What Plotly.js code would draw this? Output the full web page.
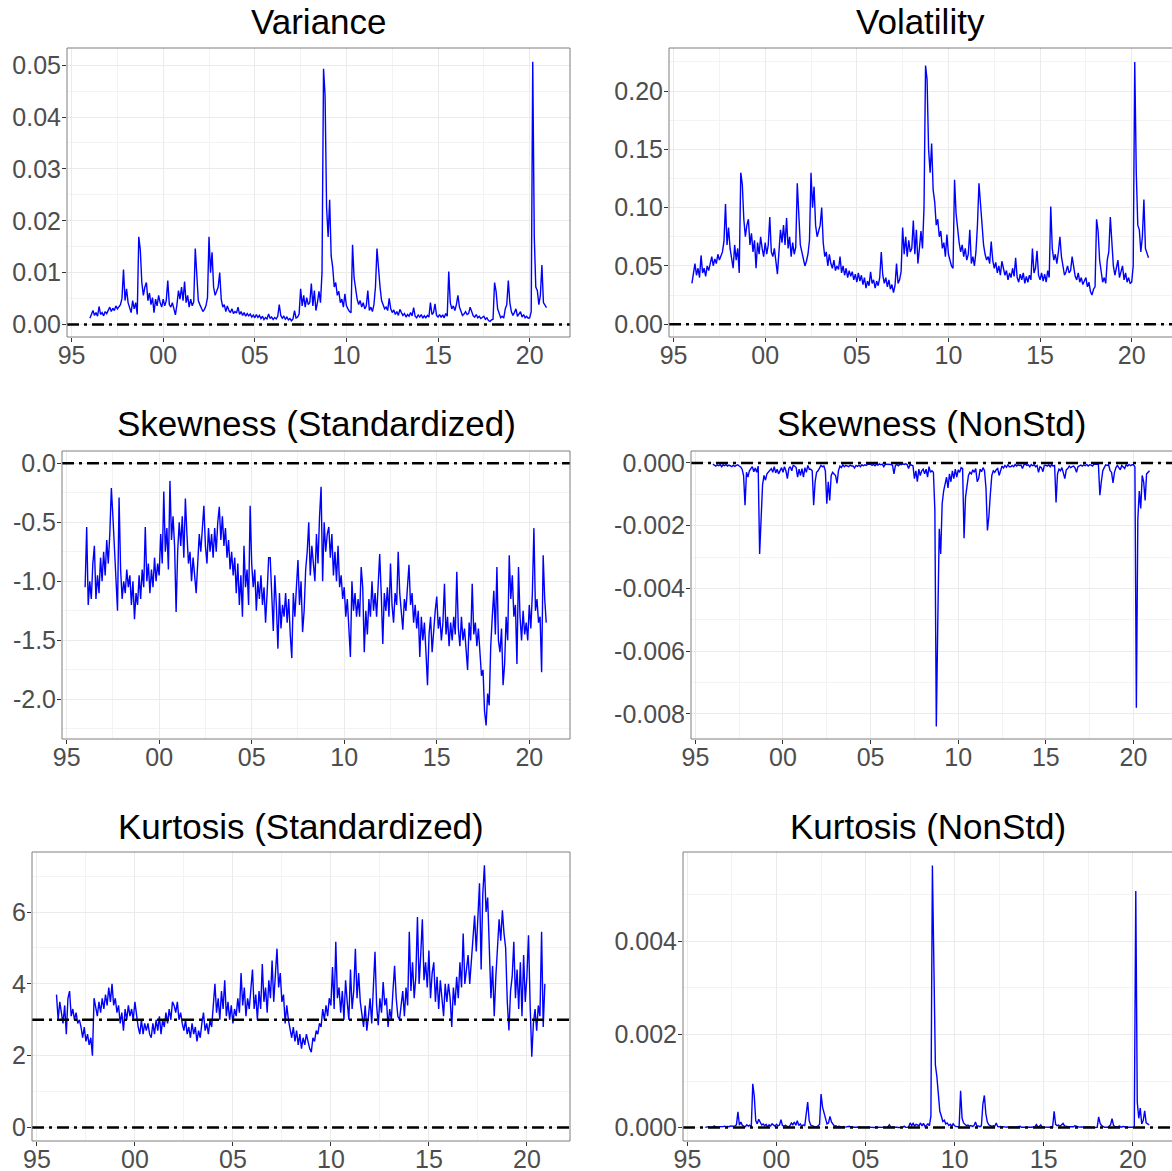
<!DOCTYPE html>
<html><head><meta charset="utf-8">
<script src="https://cdn.plot.ly/plotly-3.0.1.min.js"></script>
<style>html,body{margin:0;padding:0;background:#fff;overflow:hidden}#chart{width:1172px;height:1171px}</style>
</head><body><div id="chart"></div><script>
// ---------------- DATA (monthly, Jan 1996 .. Dec 2020) ----------------
const startYear = 1996;
const nMonths = 300;

const volatility = [
0.035,0.045,0.052,0.042,0.048,0.040,0.059,0.044,0.048,0.041,0.050,0.046,
0.052,0.058,0.050,0.056,0.052,0.060,0.055,0.058,0.062,0.071,0.103,0.068,
0.083,0.065,0.058,0.048,0.068,0.055,0.065,0.044,0.130,0.120,0.090,0.075,
0.085,0.090,0.068,0.078,0.062,0.072,0.048,0.070,0.060,0.075,0.065,0.058,
0.070,0.060,0.068,0.092,0.062,0.058,0.065,0.055,0.043,0.062,0.081,0.070,
0.085,0.068,0.091,0.065,0.075,0.058,0.070,0.060,0.066,0.121,0.090,0.068,
0.062,0.055,0.050,0.054,0.060,0.072,0.130,0.100,0.118,0.085,0.075,0.080,
0.085,0.100,0.070,0.058,0.062,0.050,0.060,0.052,0.048,0.055,0.046,0.050,
0.047,0.058,0.044,0.050,0.042,0.048,0.040,0.046,0.041,0.045,0.038,0.043,
0.036,0.044,0.037,0.042,0.034,0.040,0.031,0.037,0.033,0.045,0.035,0.038,
0.031,0.037,0.033,0.040,0.062,0.042,0.035,0.040,0.032,0.038,0.030,0.034,
0.027,0.033,0.052,0.035,0.038,0.045,0.083,0.060,0.075,0.058,0.072,0.062,
0.065,0.089,0.060,0.081,0.052,0.065,0.080,0.065,0.100,0.222,0.210,0.150,
0.130,0.155,0.115,0.105,0.085,0.090,0.075,0.080,0.065,0.070,0.058,0.077,
0.060,0.055,0.050,0.048,0.124,0.095,0.080,0.070,0.062,0.068,0.058,0.065,
0.055,0.060,0.081,0.052,0.058,0.050,0.062,0.085,0.121,0.100,0.085,0.068,
0.060,0.055,0.058,0.052,0.071,0.055,0.048,0.053,0.044,0.050,0.042,0.054,
0.048,0.042,0.046,0.038,0.044,0.040,0.048,0.041,0.057,0.040,0.036,0.043,
0.038,0.044,0.035,0.041,0.036,0.042,0.038,0.065,0.044,0.048,0.063,0.042,
0.038,0.044,0.037,0.043,0.036,0.046,0.040,0.101,0.065,0.055,0.060,0.052,
0.062,0.075,0.058,0.050,0.042,0.045,0.050,0.044,0.046,0.058,0.050,0.041,
0.038,0.044,0.036,0.040,0.034,0.038,0.040,0.032,0.036,0.028,0.025,0.030,
0.032,0.090,0.080,0.055,0.045,0.036,0.040,0.035,0.055,0.062,0.092,0.065,
0.050,0.042,0.048,0.055,0.040,0.046,0.050,0.038,0.044,0.036,0.040,0.035,
0.036,0.050,0.225,0.130,0.085,0.081,0.062,0.075,0.107,0.065,0.060,0.057
];

const variance = [
0.00123,0.00203,0.00270,0.00176,0.00230,0.00160,0.00348,0.00194,0.00230,0.00168,0.00250,0.00212,
0.00270,0.00336,0.00250,0.00314,0.00270,0.00360,0.00303,0.00336,0.00384,0.00504,0.01061,0.00462,
0.00689,0.00423,0.00336,0.00230,0.00462,0.00303,0.00423,0.00194,0.01690,0.01440,0.00810,0.00563,
0.00723,0.00810,0.00462,0.00608,0.00384,0.00518,0.00230,0.00490,0.00360,0.00563,0.00423,0.00336,
0.00490,0.00360,0.00462,0.00846,0.00384,0.00336,0.00423,0.00303,0.00185,0.00384,0.00656,0.00490,
0.00723,0.00462,0.00828,0.00423,0.00563,0.00336,0.00490,0.00360,0.00436,0.01464,0.00810,0.00462,
0.00384,0.00303,0.00250,0.00292,0.00360,0.00518,0.01690,0.01000,0.01392,0.00723,0.00563,0.00640,
0.00723,0.01000,0.00490,0.00336,0.00384,0.00250,0.00360,0.00270,0.00230,0.00303,0.00212,0.00250,
0.00221,0.00336,0.00194,0.00250,0.00176,0.00230,0.00160,0.00212,0.00168,0.00203,0.00144,0.00185,
0.00130,0.00194,0.00137,0.00176,0.00116,0.00160,0.00096,0.00137,0.00109,0.00203,0.00123,0.00144,
0.00096,0.00137,0.00109,0.00160,0.00384,0.00176,0.00123,0.00160,0.00102,0.00144,0.00090,0.00116,
0.00073,0.00109,0.00270,0.00123,0.00144,0.00203,0.00689,0.00360,0.00563,0.00336,0.00518,0.00384,
0.00423,0.00792,0.00360,0.00656,0.00270,0.00423,0.00640,0.00423,0.01000,0.04928,0.04410,0.02250,
0.01690,0.02403,0.01323,0.01103,0.00723,0.00810,0.00563,0.00640,0.00423,0.00490,0.00336,0.00593,
0.00360,0.00303,0.00250,0.00230,0.01538,0.00903,0.00640,0.00490,0.00384,0.00462,0.00336,0.00423,
0.00303,0.00360,0.00656,0.00270,0.00336,0.00250,0.00384,0.00723,0.01464,0.01000,0.00723,0.00462,
0.00360,0.00303,0.00336,0.00270,0.00504,0.00303,0.00230,0.00281,0.00194,0.00250,0.00176,0.00292,
0.00230,0.00176,0.00212,0.00144,0.00194,0.00160,0.00230,0.00168,0.00325,0.00160,0.00130,0.00185,
0.00144,0.00194,0.00123,0.00168,0.00130,0.00176,0.00144,0.00423,0.00194,0.00230,0.00397,0.00176,
0.00144,0.00194,0.00137,0.00185,0.00130,0.00212,0.00160,0.01020,0.00423,0.00303,0.00360,0.00270,
0.00384,0.00563,0.00336,0.00250,0.00176,0.00203,0.00250,0.00194,0.00212,0.00336,0.00250,0.00168,
0.00144,0.00194,0.00130,0.00160,0.00116,0.00144,0.00160,0.00102,0.00130,0.00078,0.00063,0.00090,
0.00102,0.00810,0.00640,0.00303,0.00203,0.00130,0.00160,0.00123,0.00303,0.00384,0.00846,0.00423,
0.00250,0.00176,0.00230,0.00303,0.00160,0.00212,0.00250,0.00144,0.00194,0.00130,0.00160,0.00123,
0.00130,0.00250,0.05063,0.01690,0.00723,0.00656,0.00384,0.00563,0.01145,0.00423,0.00360,0.00325
];

const skewStd = [
-1.05,-0.54,-1.20,-1.00,-1.15,-0.85,-0.70,-1.15,-0.95,-1.10,-0.80,-1.00,
-0.75,-0.95,-0.65,-0.85,-0.60,-0.21,-0.45,-0.70,-1.00,-1.25,-0.29,-0.90,
-1.15,-1.00,-1.10,-0.90,-1.05,-0.95,-1.20,-1.00,-1.32,-1.10,-1.20,-0.95,
-1.15,-0.90,-1.05,-0.54,-1.00,-0.85,-1.10,-0.90,-1.05,-0.80,-1.00,-0.85,
-0.95,-0.60,-0.85,-0.24,-0.75,-0.55,-0.90,-0.15,-0.65,-0.45,-0.70,-1.26,
-0.75,-0.50,-0.70,-0.45,-0.80,-0.30,-0.60,-0.85,-0.75,-1.00,-0.80,-0.95,
-1.10,-0.85,-0.60,-0.75,-0.50,-0.36,-0.70,-0.85,-0.55,-0.75,-0.60,-0.80,
-0.55,-0.75,-0.50,-0.37,-0.65,-0.45,-0.70,-0.55,-0.80,-0.65,-0.90,-0.75,
-0.95,-0.80,-1.10,-0.85,-1.20,-0.95,-1.30,-0.70,-1.05,-0.90,-1.20,-0.36,
-0.85,-1.05,-0.90,-1.25,-1.00,-1.15,-0.95,-1.20,-1.05,-1.35,-1.10,-0.80,
-0.80,-1.20,-1.42,-0.95,-1.20,-1.57,-1.10,-1.40,-1.20,-1.30,-1.10,-1.35,
-1.15,-1.45,-1.65,-1.10,-1.30,-1.05,-0.82,-1.20,-1.00,-1.43,-1.25,-0.90,
-0.75,-0.50,-0.95,-0.70,-0.85,-1.00,-0.60,-0.85,-0.45,-0.20,-1.00,-0.50,
-0.75,-0.60,-0.54,-0.80,-0.60,-0.95,-0.75,-1.00,-0.70,-1.05,-0.95,-1.15,
-1.05,-1.30,-1.15,-1.40,-1.64,-1.00,-1.25,-1.10,-1.30,-1.15,-1.30,-0.88,
-1.05,-1.60,-1.25,-1.45,-1.15,-1.30,-1.00,-1.25,-1.10,-1.30,-1.05,-0.77,
-1.10,-1.53,-1.10,-1.25,-1.05,-1.30,-0.85,-1.20,-1.35,-1.10,-1.20,-0.75,
-1.10,-1.30,-1.41,-1.15,-1.25,-1.05,-0.86,-1.20,-1.10,-1.35,-1.20,-1.40,
-1.25,-1.64,-1.30,-1.50,-1.35,-1.60,-1.88,-1.45,-1.30,-1.60,-1.40,-1.25,
-1.13,-1.40,-1.30,-1.50,-1.35,-1.02,-1.45,-1.30,-1.55,-1.35,-1.50,-1.30,
-1.45,-0.92,-1.40,-1.55,-1.30,-1.50,-1.40,-1.60,-1.75,-1.35,-1.50,-1.02,
-1.45,-1.35,-1.55,-1.40,-1.65,-1.80,-1.75,-2.10,-2.22,-1.95,-2.05,-1.55,
-1.30,-1.08,-1.45,-0.88,-1.50,-1.60,-1.40,-1.88,-1.70,-1.30,-1.50,-0.78,
-1.15,-0.95,-1.30,-1.20,-1.70,-0.88,-1.30,-1.50,-1.25,-1.45,-1.35,-1.50,
-1.20,-1.40,-1.10,-0.55,-1.25,-1.15,-1.35,-1.30,-1.77,-0.78,-1.15,-1.35
];

const skewNonStd = [
-0.00004,-0.00008,-0.00010,-0.00006,-0.00009,-0.00005,-0.00012,-0.00006,-0.00009,-0.00005,-0.00010,-0.00007,
-0.00009,-0.00012,-0.00007,-0.00011,-0.00008,-0.00006,-0.00010,-0.00013,-0.00020,-0.00040,-0.00135,-0.00030,
-0.00045,-0.00025,-0.00018,-0.00012,-0.00028,-0.00016,-0.00030,-0.00010,-0.00290,-0.00180,-0.00070,-0.00040,
-0.00055,-0.00035,-0.00030,-0.00022,-0.00018,-0.00030,-0.00012,-0.00032,-0.00020,-0.00035,-0.00025,-0.00015,
-0.00030,-0.00012,-0.00025,-0.00050,-0.00018,-0.00012,-0.00025,-0.00008,-0.00010,-0.00015,-0.00045,-0.00020,
-0.00040,-0.00018,-0.00045,-0.00015,-0.00030,-0.00008,-0.00020,-0.00020,-0.00025,-0.00135,-0.00060,-0.00030,
-0.00025,-0.00015,-0.00008,-0.00012,-0.00010,-0.00025,-0.00130,-0.00060,-0.00120,-0.00040,-0.00030,-0.00035,
-0.00040,-0.00065,-0.00025,-0.00010,-0.00015,-0.00006,-0.00012,-0.00008,-0.00009,-0.00012,-0.00007,-0.00010,
-0.00010,-0.00016,-0.00008,-0.00011,-0.00007,-0.00012,-0.00006,-0.00009,-0.00006,-0.00008,-0.00004,-0.00003,
-0.00004,-0.00008,-0.00005,-0.00009,-0.00004,-0.00007,-0.00003,-0.00006,-0.00004,-0.00012,-0.00005,-0.00004,
-0.00004,-0.00006,-0.00005,-0.00007,-0.00035,-0.00008,-0.00005,-0.00009,-0.00004,-0.00006,-0.00003,-0.00005,
-0.00003,-0.00005,-0.00018,-0.00005,-0.00006,-0.00009,-0.00050,-0.00025,-0.00060,-0.00020,-0.00040,-0.00025,
-0.00020,-0.00035,-0.00020,-0.00045,-0.00012,-0.00030,-0.00025,-0.00030,-0.00150,-0.00840,-0.00510,-0.00210,
-0.00290,-0.00130,-0.00090,-0.00070,-0.00045,-0.00080,-0.00035,-0.00060,-0.00025,-0.00050,-0.00020,-0.00045,
-0.00022,-0.00030,-0.00015,-0.00018,-0.00240,-0.00110,-0.00065,-0.00040,-0.00030,-0.00035,-0.00022,-0.00030,
-0.00018,-0.00060,-0.00050,-0.00020,-0.00028,-0.00015,-0.00025,-0.00080,-0.00215,-0.00170,-0.00100,-0.00040,
-0.00025,-0.00030,-0.00022,-0.00018,-0.00040,-0.00020,-0.00010,-0.00016,-0.00008,-0.00014,-0.00006,-0.00012,
-0.00012,-0.00008,-0.00012,-0.00005,-0.00010,-0.00006,-0.00008,-0.00007,-0.00018,-0.00006,-0.00004,-0.00008,
-0.00006,-0.00012,-0.00005,-0.00009,-0.00006,-0.00012,-0.00008,-0.00030,-0.00012,-0.00015,-0.00028,-0.00008,
-0.00007,-0.00010,-0.00006,-0.00012,-0.00005,-0.00010,-0.00008,-0.00126,-0.00035,-0.00020,-0.00025,-0.00015,
-0.00030,-0.00050,-0.00022,-0.00018,-0.00010,-0.00015,-0.00012,-0.00010,-0.00016,-0.00030,-0.00012,-0.00008,
-0.00007,-0.00010,-0.00006,-0.00009,-0.00005,-0.00010,-0.00006,-0.00007,-0.00010,-0.00004,-0.00003,-0.00004,
-0.00004,-0.00103,-0.00060,-0.00025,-0.00015,-0.00006,-0.00008,-0.00006,-0.00025,-0.00030,-0.00064,-0.00030,
-0.00015,-0.00008,-0.00015,-0.00022,-0.00008,-0.00012,-0.00018,-0.00006,-0.00010,-0.00005,-0.00009,-0.00006,
-0.00006,-0.00012,-0.00780,-0.00180,-0.00090,-0.00145,-0.00040,-0.00060,-0.00120,-0.00035,-0.00030,-0.00025
];

const kurtStd = [
3.70,3.00,3.50,3.20,2.90,3.40,2.60,3.60,3.80,3.10,3.30,3.00,
3.20,2.90,3.00,2.80,2.50,2.80,2.40,2.60,2.30,2.50,2.00,3.60,
3.30,3.10,3.50,3.20,3.60,3.30,3.70,3.40,3.90,3.50,4.00,3.40,
3.60,3.20,3.40,2.90,3.20,2.70,3.30,3.00,3.40,3.10,3.30,3.00,
3.50,3.10,2.80,2.60,3.00,2.60,2.90,2.70,2.90,2.60,2.50,2.90,
2.60,3.00,2.70,3.10,2.60,3.00,2.80,3.20,2.90,3.30,3.00,3.50,
3.40,3.20,3.50,3.00,3.20,2.90,2.70,3.00,2.60,2.80,2.50,2.90,
2.60,2.80,2.40,2.70,2.50,2.90,3.20,2.70,2.90,2.60,3.00,2.80,
3.50,4.00,3.20,3.60,3.00,3.80,3.30,4.10,3.10,3.50,3.00,3.40,
2.90,3.30,3.10,3.60,3.20,4.30,3.40,3.90,3.10,3.60,3.30,3.80,
4.40,3.30,3.70,3.00,3.80,3.30,4.55,3.50,3.90,3.20,4.10,3.60,
4.65,3.50,4.20,4.98,3.90,4.30,3.50,3.70,2.90,3.40,3.00,2.70,
2.50,2.80,2.40,2.70,2.30,2.60,2.20,2.50,2.30,2.60,2.40,2.20,
2.10,2.50,2.40,2.70,2.60,2.90,2.80,3.30,3.00,3.40,3.10,3.60,
3.40,4.47,3.30,5.17,3.60,3.90,3.20,3.80,3.00,4.10,3.50,3.00,
4.40,3.30,3.80,4.98,3.60,4.30,3.50,3.20,2.80,3.40,2.70,3.10,
3.60,2.90,3.80,4.89,3.40,2.85,3.60,3.20,4.05,3.40,3.60,2.80,
3.30,3.00,3.80,4.50,3.60,3.10,3.00,3.50,3.80,3.10,3.90,3.40,
5.45,3.80,4.60,3.60,4.20,5.86,4.00,4.80,5.80,4.10,4.60,3.90,
4.93,3.60,4.30,4.60,3.50,4.20,3.30,4.10,3.60,3.10,4.00,3.50,
4.00,3.60,2.80,3.90,3.40,4.20,3.60,4.60,3.90,5.40,4.00,4.40,
4.80,4.00,4.60,5.20,5.90,4.90,6.10,6.80,4.40,6.50,7.30,6.00,
6.40,4.80,3.60,4.50,3.10,4.20,4.90,5.80,5.20,6.05,5.40,5.00,
3.50,2.70,3.80,4.20,5.17,3.60,4.40,3.30,4.60,3.10,4.80,3.50,
4.20,5.35,3.40,1.97,2.90,3.30,2.70,3.40,3.10,5.45,2.80,4.00
];

const kurtNonStd = [
0.000005,0.000012,0.000020,0.000010,0.000015,0.000008,0.000035,0.000012,0.000016,0.000009,0.000020,0.000014,
0.000020,0.000030,0.000018,0.000025,0.000020,0.000035,0.000025,0.000030,0.000035,0.000060,0.000340,0.000050,
0.000120,0.000045,0.000030,0.000018,0.000060,0.000030,0.000050,0.000012,0.000940,0.000680,0.000150,0.000080,
0.000180,0.000130,0.000055,0.000080,0.000040,0.000070,0.000015,0.000060,0.000035,0.000080,0.000045,0.000030,
0.000070,0.000035,0.000055,0.000170,0.000045,0.000030,0.000050,0.000025,0.000010,0.000040,0.000100,0.000060,
0.000120,0.000050,0.000150,0.000045,0.000080,0.000030,0.000060,0.000035,0.000240,0.000550,0.000150,0.000055,
0.000040,0.000025,0.000015,0.000022,0.000035,0.000070,0.000720,0.000440,0.000300,0.000150,0.000080,0.000100,
0.000240,0.000120,0.000060,0.000030,0.000040,0.000015,0.000030,0.000018,0.000012,0.000025,0.000010,0.000015,
0.000015,0.000030,0.000010,0.000018,0.000008,0.000015,0.000007,0.000012,0.000008,0.000012,0.000006,0.000009,
0.000005,0.000010,0.000006,0.000009,0.000004,0.000008,0.000003,0.000006,0.000004,0.000012,0.000005,0.000006,
0.000004,0.000006,0.000004,0.000008,0.000060,0.000010,0.000005,0.000008,0.000004,0.000006,0.000003,0.000005,
0.000002,0.000004,0.000030,0.000005,0.000007,0.000015,0.000100,0.000040,0.000090,0.000035,0.000070,0.000045,
0.000040,0.000100,0.000035,0.000090,0.000020,0.000050,0.000080,0.000040,0.000250,0.005630,0.002800,0.001350,
0.001100,0.000600,0.000350,0.000250,0.000130,0.000160,0.000080,0.000100,0.000045,0.000070,0.000030,0.000080,
0.000035,0.000025,0.000018,0.000015,0.000790,0.000200,0.000100,0.000060,0.000040,0.000055,0.000030,0.000045,
0.000025,0.000040,0.000120,0.000030,0.000035,0.000020,0.000040,0.000500,0.000690,0.000300,0.000120,0.000060,
0.000035,0.000025,0.000040,0.000030,0.000100,0.000025,0.000015,0.000022,0.000012,0.000020,0.000010,0.000018,
0.000015,0.000010,0.000015,0.000007,0.000012,0.000008,0.000015,0.000010,0.000030,0.000008,0.000006,0.000012,
0.000010,0.000015,0.000007,0.000012,0.000008,0.000015,0.000010,0.000065,0.000018,0.000025,0.000060,0.000012,
0.000010,0.000015,0.000008,0.000014,0.000007,0.000018,0.000010,0.000350,0.000070,0.000040,0.000055,0.000030,
0.000060,0.000090,0.000035,0.000025,0.000012,0.000015,0.000020,0.000015,0.000018,0.000040,0.000025,0.000010,
0.000010,0.000015,0.000008,0.000012,0.000007,0.000012,0.000014,0.000008,0.000012,0.000004,0.000003,0.000004,
0.000004,0.000230,0.000090,0.000040,0.000015,0.000006,0.000010,0.000006,0.000030,0.000060,0.000190,0.000050,
0.000020,0.000012,0.000020,0.000035,0.000010,0.000018,0.000025,0.000008,0.000015,0.000006,0.000010,0.000006,
0.000007,0.000015,0.005080,0.000550,0.000200,0.000420,0.000080,0.000150,0.000360,0.000100,0.000080,0.000060
];

// axis ticks / labels
const xTickVals = [1995, 2000, 2005, 2010, 2015, 2020];
const xTickText = ['95', '00', '05', '10', '15', '20'];
const xMinorVals = [1997.5, 2002.5, 2007.5, 2012.5, 2017.5];

const varTickVals = [0, 0.01, 0.02, 0.03, 0.04, 0.05];
const varTickText = ['0.00', '0.01', '0.02', '0.03', '0.04', '0.05'];
const varMinor = [0.005, 0.015, 0.025, 0.035, 0.045];

const volTickVals = [0, 0.05, 0.10, 0.15, 0.20];
const volTickText = ['0.00', '0.05', '0.10', '0.15', '0.20'];
const volMinor = [0.025, 0.075, 0.125, 0.175, 0.225];

const skTickVals = [0, -0.5, -1.0, -1.5, -2.0];
const skTickText = ['0.0', '-0.5', '-1.0', '-1.5', '-2.0'];
const skMinor = [-0.25, -0.75, -1.25, -1.75, -2.25];

const snTickVals = [0, -0.002, -0.004, -0.006, -0.008];
const snTickText = ['0.000', '-0.002', '-0.004', '-0.006', '-0.008'];
const snMinor = [-0.001, -0.003, -0.005, -0.007];

const kuTickVals = [0, 2, 4, 6];
const kuTickText = ['0', '2', '4', '6'];
const kuMinor = [1, 3, 5, 7];

const knTickVals = [0, 0.002, 0.004];
const knTickText = ['0.000', '0.002', '0.004'];
const knMinor = [0.001, 0.003, 0.005];

const titles = ['Variance', 'Volatility', 'Skewness (Standardized)', 'Skewness (NonStd)',
                'Kurtosis (Standardized)', 'Kurtosis (NonStd)'];
const refLines = [[0], [0], [0], [0], [0, 3], [0]];

// ---------------- LAYOUT ----------------
const W = 1172, H = 1171;
const dates = [];
for (let i = 0; i < nMonths; i++) dates.push(startYear + i / 12);

const panels = [
  {y: variance,   px: [67, 570],    py: [48, 337],   yr: [-0.0024, 0.0533],    tv: varTickVals, tt: varTickText, mv: varMinor, ty: 22},
  {y: volatility, px: [669, 1172],  py: [48, 337],   yr: [-0.011, 0.237],      tv: volTickVals, tt: volTickText, mv: volMinor, ty: 22},
  {y: skewStd,    px: [62, 570],    py: [451, 739],  yr: [-2.335, 0.103],      tv: skTickVals,  tt: skTickText,  mv: skMinor,  ty: 424},
  {y: skewNonStd, px: [691, 1172],  py: [451, 739],  yr: [-0.0088, 0.00038],   tv: snTickVals,  tt: snTickText,  mv: snMinor,  ty: 424},
  {y: kurtStd,    px: [32, 570],    py: [852, 1141], yr: [-0.373, 7.67],       tv: kuTickVals,  tt: kuTickText,  mv: kuMinor,  ty: 826},
  {y: kurtNonStd, px: [683, 1172],  py: [852, 1141], yr: [-0.000288, 0.00592], tv: knTickVals,  tt: knTickText,  mv: knMinor,  ty: 826}
];

const FONT = 'Liberation Sans, Arial, sans-serif';
const tickFont = {family: FONT, size: 25, color: '#4D4D4D'};
const gridMajor = '#EBEBEB', gridMinor = '#F3F3F3';

const traces = [];
const layout = {
  width: W, height: H,
  margin: {l: 0, r: 0, t: 0, b: 0},
  paper_bgcolor: '#FFFFFF', plot_bgcolor: '#FFFFFF',
  showlegend: false,
  shapes: [], annotations: []
};

panels.forEach((p, i) => {
  const n = i === 0 ? '' : String(i + 1);
  const xa = 'xaxis' + n, ya = 'yaxis' + n;
  const xr = 'x' + n, yr = 'y' + n;
  layout[xa] = {
    domain: [p.px[0] / W, p.px[1] / W],
    range: [1994.75, 2022.2],
    anchor: yr,
    tickmode: 'array', tickvals: xTickVals, ticktext: xTickText,
    ticks: 'outside', ticklen: 4, tickwidth: 1, tickcolor: '#333333',
    ticklabelstandoff: -8,
    tickfont: tickFont,
    showgrid: true, gridcolor: gridMajor, gridwidth: 1,
    minor: {tickmode: 'array', tickvals: xMinorVals, showgrid: true, gridcolor: gridMinor, gridwidth: 1, ticks: ''},
    zeroline: false, showline: false, fixedrange: true
  };
  layout[ya] = {
    domain: [1 - p.py[1] / H, 1 - p.py[0] / H],
    range: p.yr,
    anchor: xr,
    tickmode: 'array', tickvals: p.tv, ticktext: p.tt,
    ticks: 'outside', ticklen: 4, tickwidth: 1, tickcolor: '#333333',
    ticklabelstandoff: -4,
    tickfont: tickFont,
    showgrid: true, gridcolor: gridMajor, gridwidth: 1,
    minor: {tickmode: 'array', tickvals: p.mv, showgrid: true, gridcolor: gridMinor, gridwidth: 1, ticks: ''},
    zeroline: false, showline: false, fixedrange: true
  };
  traces.push({
    x: dates, y: p.y, type: 'scatter', mode: 'lines',
    line: {color: '#0000FF', width: 1.4},
    xaxis: xr, yaxis: yr, hoverinfo: 'skip'
  });
  refLines[i].forEach(v => {
    layout.shapes.push({
      type: 'line', xref: xr + ' domain', x0: 0, x1: 1, yref: yr, y0: v, y1: v,
      line: {color: '#000000', width: 2.5, dash: '12px,5px,3px,5px'}, layer: 'above'
    });
  });
  const right = p.px[1] >= W ? (W + 3) / W : p.px[1] / W;
  layout.shapes.push({
    type: 'rect', xref: 'paper', yref: 'paper',
    x0: p.px[0] / W, x1: right, y0: 1 - p.py[1] / H, y1: 1 - p.py[0] / H,
    line: {color: '#7F7F7F', width: 1}, fillcolor: 'rgba(0,0,0,0)', layer: 'above'
  });
  layout.annotations.push({
    text: titles[i], xref: 'paper', yref: 'paper',
    x: (p.px[0] + p.px[1]) / 2 / W, y: 1 - p.ty / H,
    xanchor: 'center', yanchor: 'middle', showarrow: false,
    font: {family: FONT, size: 35, color: '#000000'}
  });
});

Plotly.newPlot('chart', traces, layout, {displayModeBar: false, staticPlot: true});
</script></body></html>
